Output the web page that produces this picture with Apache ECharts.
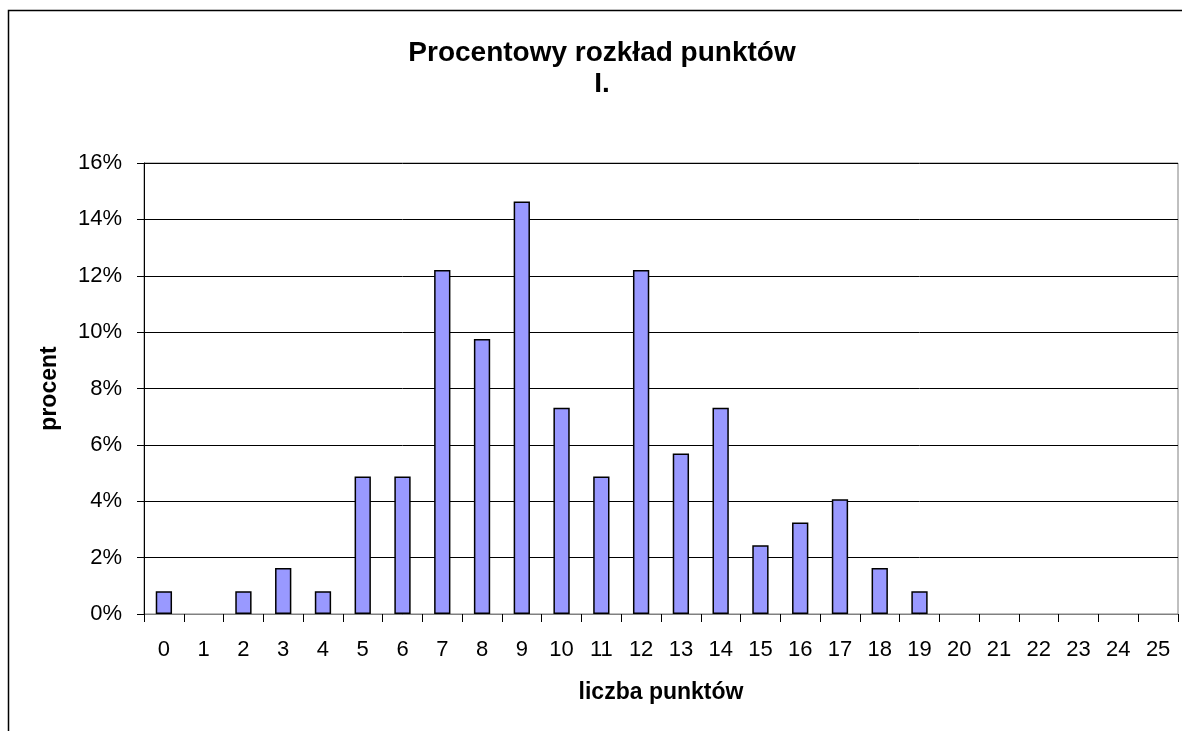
<!DOCTYPE html>
<html>
<head>
<meta charset="utf-8">
<script src="https://cdn.jsdelivr.net/npm/echarts@6/dist/echarts.min.js"></script>
<style>html,body{margin:0;padding:0;background:#fff;}#c{width:1182px;height:731px;}</style>
</head>
<body>
<div id="c"></div>
<script>
const categories = ['0','1','2','3','4','5','6','7','8','9','10','11','12','13','14','15','16','17','18','19','20','21','22','23','24','25'];
const percentValues = [0.81,0,0.81,1.63,0.81,4.88,4.88,12.2,9.76,14.63,7.32,4.88,12.2,5.69,7.32,2.44,3.25,4.07,1.63,0.81,0,0,0,0,0,0];
const titleLines = ['Procentowy rozkład punktów', 'I.'];
const xName = 'liczba punktów';
const yName = 'procent';

const chart = echarts.init(document.getElementById('c'), null, {renderer:'canvas'});
const font = '"Liberation Sans", Arial, sans-serif';
chart.setOption({
  animation: false,
  backgroundColor: '#fff',
  graphic: [{
    type: 'rect', silent: true,
    shape: {x: 8.5, y: 10.5, width: 1300, height: 900},
    style: {fill: 'none', stroke: '#000', lineWidth: 1.5}
  }],
  title: {
    text: titleLines.join('\n'),
    left: 597, top: 33, textAlign: 'center',
    textStyle: {fontFamily: font, fontSize: 28, fontWeight: 'bold', color: '#000', lineHeight: 31}
  },
  grid: {left: 144, top: 163, width: 1034, height: 451, show: true, borderColor: '#808080', borderWidth: 1, containLabel: false},
  xAxis: {
    type: 'category', data: categories,
    name: xName, nameLocation: 'middle', nameGap: 67,
    nameTextStyle: {fontFamily: font, fontSize: 23, fontWeight: 'bold', color: '#000'},
    axisLine: {lineStyle: {color: '#808080', width: 1}},
    axisTick: {show: true, length: 8, lineStyle: {color: '#000'}},
    axisLabel: {fontFamily: font, fontSize: 22, color: '#000', margin: 25, interval: 0}
  },
  yAxis: {
    type: 'value', min: 0, max: 16, interval: 2,
    name: yName, nameLocation: 'middle', nameGap: 83, nameRotate: 90,
    nameTextStyle: {fontFamily: font, fontSize: 23, fontWeight: 'bold', color: '#000'},
    axisLine: {show: true, lineStyle: {color: '#000', width: 1}},
    axisTick: {show: true, length: 7, lineStyle: {color: '#000'}},
    axisLabel: {fontFamily: font, fontSize: 22, color: '#000', margin: 22, formatter: '{value}%'},
    splitLine: {show: true, lineStyle: {color: '#000', width: 1}}
  },
  series: [{
    type: 'bar', data: percentValues.map(v => v === 0 ? '-' : v), barWidth: '41%',
    itemStyle: {color: '#9999FF', borderColor: '#000', borderWidth: 1.5}
  }]
});
</script>
</body>
</html>
